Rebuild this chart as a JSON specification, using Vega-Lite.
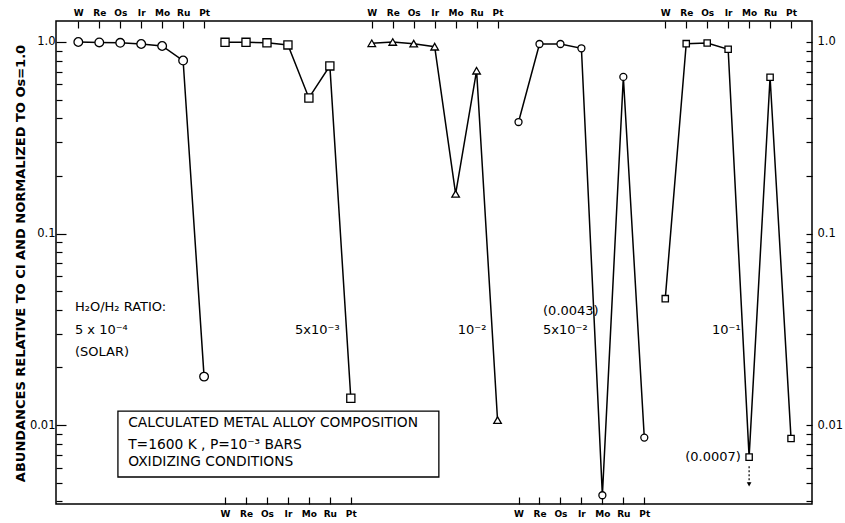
{
  "$schema": "https://vega.github.io/schema/vega-lite/v6.json",
  "width": 756,
  "height": 483,
  "autosize": "none",
  "padding": {"left": 56, "top": 21, "right": 33, "bottom": 19},
  "background": "white",
  "config": {"view": {"stroke": "black", "strokeWidth": 1.5}, "font": "DejaVu Sans"},
  "datasets": {
    "abund": [
      {"panel": 1, "el": "W", "k": 0, "v": 1.0},
      {"panel": 1, "el": "Re", "k": 1, "v": 0.995},
      {"panel": 1, "el": "Os", "k": 2, "v": 0.99},
      {"panel": 1, "el": "Ir", "k": 3, "v": 0.976},
      {"panel": 1, "el": "Mo", "k": 4, "v": 0.953},
      {"panel": 1, "el": "Ru", "k": 5, "v": 0.8},
      {"panel": 1, "el": "Pt", "k": 6, "v": 0.0179},
      {"panel": 2, "el": "W", "k": 7, "v": 0.996},
      {"panel": 2, "el": "Re", "k": 8, "v": 0.996},
      {"panel": 2, "el": "Os", "k": 9, "v": 0.99},
      {"panel": 2, "el": "Ir", "k": 10, "v": 0.965},
      {"panel": 2, "el": "Mo", "k": 11, "v": 0.51},
      {"panel": 2, "el": "Ru", "k": 12, "v": 0.75},
      {"panel": 2, "el": "Pt", "k": 13, "v": 0.0138},
      {"panel": 3, "el": "W", "k": 14, "v": 0.985},
      {"panel": 3, "el": "Re", "k": 15, "v": 1.0},
      {"panel": 3, "el": "Os", "k": 16, "v": 0.98},
      {"panel": 3, "el": "Ir", "k": 17, "v": 0.945},
      {"panel": 3, "el": "Mo", "k": 18, "v": 0.161},
      {"panel": 3, "el": "Ru", "k": 19, "v": 0.708},
      {"panel": 3, "el": "Pt", "k": 20, "v": 0.0106},
      {"panel": 4, "el": "W", "k": 21, "v": 0.382},
      {"panel": 4, "el": "Re", "k": 22, "v": 0.976},
      {"panel": 4, "el": "Os", "k": 23, "v": 0.976},
      {"panel": 4, "el": "Ir", "k": 24, "v": 0.927},
      {"panel": 4, "el": "Mo", "k": 25, "v": 0.0043},
      {"panel": 4, "el": "Ru", "k": 26, "v": 0.657},
      {"panel": 4, "el": "Pt", "k": 27, "v": 0.0086},
      {"panel": 5, "el": "W", "k": 28, "v": 0.0457},
      {"panel": 5, "el": "Re", "k": 29, "v": 0.98},
      {"panel": 5, "el": "Os", "k": 30, "v": 0.988},
      {"panel": 5, "el": "Ir", "k": 31, "v": 0.916},
      {"panel": 5, "el": "Mo", "k": 32, "v": 0.0068},
      {"panel": 5, "el": "Ru", "k": 33, "v": 0.654},
      {"panel": 5, "el": "Pt", "k": 34, "v": 0.0085}
    ],
    "notes": [
      {"k": -0.16, "v": 0.0413, "text": "H₂O/H₂  RATIO:"},
      {"k": -0.16, "v": 0.0313, "text": "5 x 10⁻⁴"},
      {"k": -0.16, "v": 0.0241, "text": "(SOLAR)"},
      {"k": 10.34, "v": 0.0313, "text": "5x10⁻³"},
      {"k": 18.1, "v": 0.0313, "text": "10⁻²"},
      {"k": 22.17, "v": 0.0394, "text": "(0.0043)"},
      {"k": 22.17, "v": 0.0313, "text": "5x10⁻²"},
      {"k": 30.23, "v": 0.0313, "text": "10⁻¹"},
      {"k": 28.95, "v": 0.00681, "text": "(0.0007)"}
    ],
    "boxtext": [
      {"k": 2.38, "v": 0.01024, "text": "CALCULATED METAL ALLOY COMPOSITION"},
      {"k": 2.38, "v": 0.00787, "text": "T=1600 K , P=10⁻³ BARS"},
      {"k": 2.38, "v": 0.00641, "text": "OXIDIZING CONDITIONS"}
    ],
    "box": [{"k1": 1.89, "k2": 17.2, "v1": 0.01183, "v2": 0.005353}],
    "arrow": [{"k": 32, "v1": 0.0061, "v2": 0.0049}]
  },
  "layer": [
    {
      "data": {"name": "abund"},
      "mark": {"type": "line", "color": "black", "strokeWidth": 1.5},
      "encoding": {
        "x": {
          "field": "k", "type": "quantitative",
          "scale": {"domain": [-1.064, 35], "nice": false, "zero": false},
          "axis": {
            "orient": "top", "title": null, "domain": false, "grid": false,
            "values": [0,1,2,3,4,5,6,14,15,16,17,18,19,20,28,29,30,31,32,33,34],
            "labelExpr": "['W','Re','Os','Ir','Mo','Ru','Pt'][datum.value % 7]",
            "tickSize": -7, "tickColor": "black", "tickWidth": 1.2,
            "labelPadding": 11, "labelFontSize": 9, "labelFontWeight": "bold",
            "labelColor": "black", "labelFont": "DejaVu Sans"
          }
        },
        "y": {
          "field": "v", "type": "quantitative",
          "scale": {"type": "log", "domain": [0.00387, 1.287], "nice": false},
          "axis": {
            "orient": "left", "domain": false, "grid": false,
            "values": [1,0.9,0.8,0.7,0.6,0.5,0.4,0.3,0.2,0.1,0.09,0.08,0.07,0.06,0.05,0.04,0.03,0.02,0.01,0.009,0.008,0.007,0.006,0.005,0.004],
            "labelExpr": "datum.value == 1 ? '1.0' : datum.value == 0.1 ? '0.1' : datum.value == 0.01 ? '0.01' : ''",
            "tickSize": {"condition": {"test": "datum.value == 1 || datum.value == 0.1 || datum.value == 0.01", "value": -10}, "value": -6},
            "tickColor": "black", "tickWidth": 1.2,
            "labelPadding": 11, "labelFontSize": 11.5, "labelColor": "black",
            "title": "ABUNDANCES RELATIVE TO CI AND NORMALIZED TO Os=1.0",
            "titleFontSize": 13, "titleFontWeight": "bold", "titleColor": "black",
            "titleAngle": -90, "titleX": -36, "titleY": 242, "titleAlign": "center", "titleBaseline": "middle"
          }
        },
        "detail": {"field": "panel", "type": "nominal"},
        "order": {"field": "k", "type": "quantitative"}
      }
    },
    {
      "data": {"name": "abund"},
      "mark": {"type": "point", "filled": true, "fill": "white", "stroke": "black", "strokeWidth": 1.3, "opacity": 1},
      "encoding": {
        "x": {
          "field": "k", "type": "quantitative",
          "axis": {
            "orient": "bottom", "title": null, "domain": false, "grid": false,
            "values": [7,8,9,10,11,12,13,21,22,23,24,25,26,27],
            "labelExpr": "['W','Re','Os','Ir','Mo','Ru','Pt'][datum.value % 7]",
            "tickSize": -7, "tickColor": "black", "tickWidth": 1.2,
            "labelPadding": 12, "labelFontSize": 9, "labelFontWeight": "bold",
            "labelColor": "black", "labelFont": "DejaVu Sans"
          }
        },
        "y": {
          "field": "v", "type": "quantitative",
          "axis": {
            "orient": "right", "title": null, "domain": false, "grid": false,
            "values": [1,0.9,0.8,0.7,0.6,0.5,0.4,0.3,0.2,0.1,0.09,0.08,0.07,0.06,0.05,0.04,0.03,0.02,0.01,0.009,0.008,0.007,0.006,0.005,0.004],
            "labelExpr": "datum.value == 1 ? '1.0' : datum.value == 0.1 ? '0.1' : datum.value == 0.01 ? '0.01' : ''",
            "tickSize": -6, "tickColor": "black", "tickWidth": 1.2,
            "labelPadding": 11, "labelFontSize": 11.5, "labelColor": "black"
          }
        },
        "shape": {"field": "panel", "type": "ordinal", "scale": {"domain": [1,2,3,4,5], "range": ["circle","square","triangle-up","circle","square"]}, "legend": null},
        "size": {"field": "panel", "type": "ordinal", "scale": {"domain": [1,2,3,4,5], "range": [75,40,70,75,40]}, "legend": null}
      }
    },
    {
      "data": {"name": "box"},
      "mark": {"type": "rect", "fill": "white", "stroke": "black", "strokeWidth": 1.3},
      "encoding": {
        "x": {"field": "k1", "type": "quantitative", "axis": null},
        "x2": {"field": "k2"},
        "y": {"field": "v1", "type": "quantitative", "axis": null},
        "y2": {"field": "v2"}
      }
    },
    {
      "data": {"name": "boxtext"},
      "mark": {"type": "text", "align": "left", "baseline": "middle", "fontSize": 13.8, "color": "black", "font": "DejaVu Sans"},
      "encoding": {
        "x": {"field": "k", "type": "quantitative", "axis": null},
        "y": {"field": "v", "type": "quantitative", "axis": null},
        "text": {"field": "text"}
      }
    },
    {
      "data": {"name": "notes"},
      "mark": {"type": "text", "align": "left", "baseline": "middle", "fontSize": 13, "color": "black", "font": "DejaVu Sans"},
      "encoding": {
        "x": {"field": "k", "type": "quantitative", "axis": null},
        "y": {"field": "v", "type": "quantitative", "axis": null},
        "text": {"field": "text"}
      }
    },
    {
      "data": {"name": "arrow"},
      "mark": {"type": "rule", "color": "black", "strokeWidth": 1.2, "strokeDash": [2, 2]},
      "encoding": {
        "x": {"field": "k", "type": "quantitative", "axis": null},
        "y": {"field": "v1", "type": "quantitative", "axis": null},
        "y2": {"field": "v2"}
      }
    },
    {
      "data": {"name": "arrow"},
      "mark": {"type": "point", "shape": "triangle-down", "filled": true, "color": "black", "size": 22, "opacity": 1},
      "encoding": {
        "x": {"field": "k", "type": "quantitative", "axis": null},
        "y": {"field": "v2", "type": "quantitative", "axis": null}
      }
    }
  ],
  "resolve": {"axis": {"x": "independent", "y": "independent"}}
}
